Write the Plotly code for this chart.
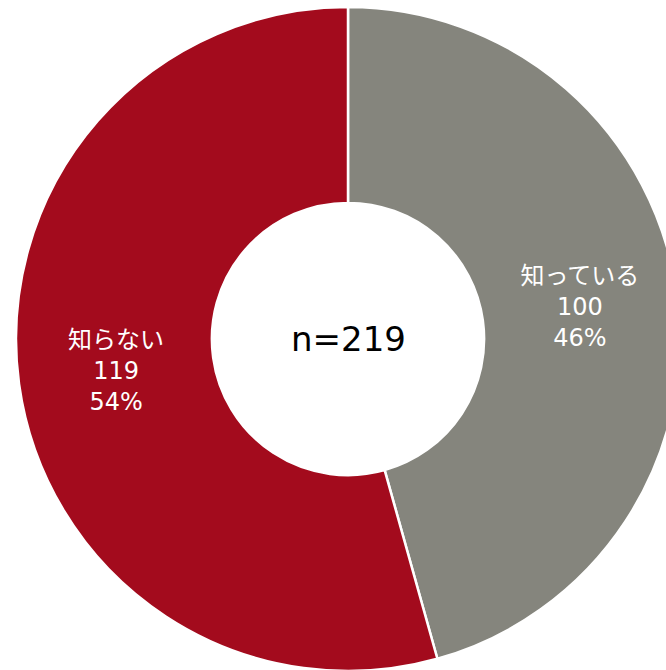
import plotly.graph_objects as go

labels = ["知っている", "知らない"]
values = [100, 119]
colors = ["#85857D", "#A30B1D"]
center_text = "n=219"

W, H = 700, 700
cx, cy, r = 348, 339, 332

FONT = "DejaVu Sans, Noto Sans CJK JP, sans-serif"

fig = go.Figure(go.Pie(
    labels=labels,
    values=values,
    hole=0.41,
    sort=False,
    direction="clockwise",
    rotation=0,
    marker=dict(colors=colors, line=dict(color="white", width=2.5)),
    texttemplate="%{label}<br>%{value}<br>%{percent:.0%}",
    textposition="inside",
    insidetextorientation="horizontal",
    textfont=dict(color="white", size=24, family=FONT),
    domain=dict(x=[(cx - r) / W, (cx + r) / W], y=[1 - (cy + r) / H, 1 - (cy - r) / H]),
    showlegend=False,
    hoverinfo="skip",
))

fig.add_annotation(
    text=center_text, x=cx / W, y=1 - cy / H, xref="paper", yref="paper",
    showarrow=False, font=dict(size=34, color="black", family=FONT),
)

fig.update_layout(
    width=W, height=H,
    margin=dict(l=0, r=0, t=0, b=0),
    paper_bgcolor="white", plot_bgcolor="white",
    uniformtext=dict(minsize=24, mode="show"),
)

fig.write_html(
    "out.html",
    config={"displayModeBar": False},
    post_script="document.body.style.margin='0';document.body.style.overflow='hidden';"
                "document.documentElement.style.overflow='hidden';",
)
